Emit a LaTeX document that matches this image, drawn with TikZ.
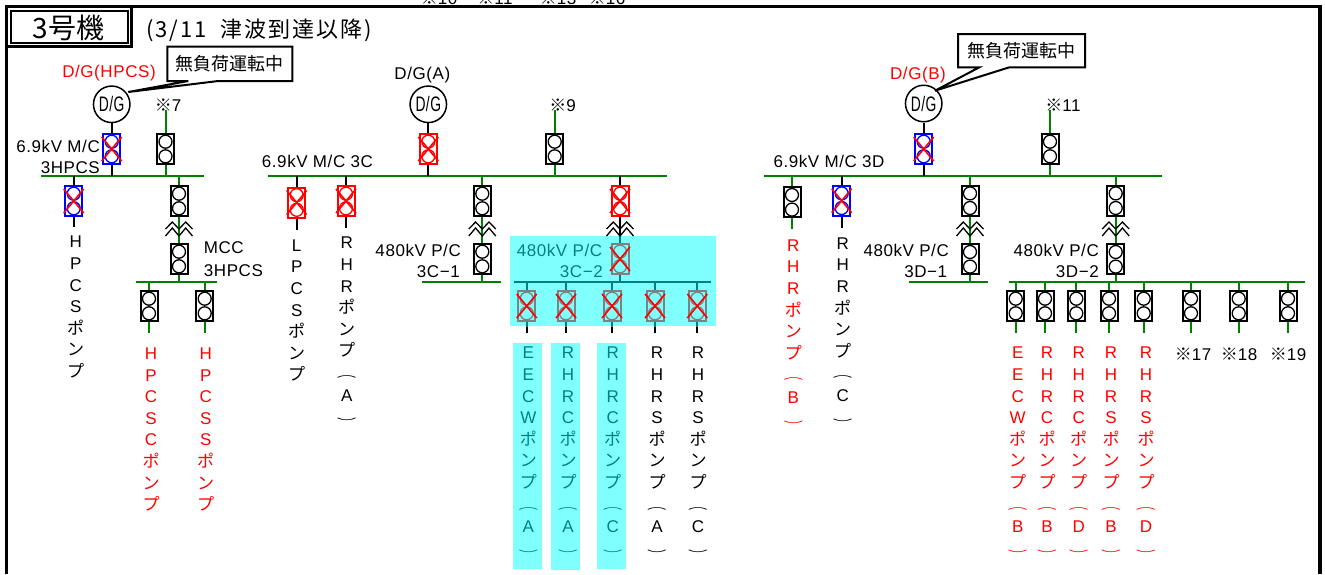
\documentclass[tikz,border=0pt]{standalone}
\usepackage{fontspec}
\setmainfont[LetterSpace=3.4]{Liberation Sans}
\newfontfamily\cjk{Noto Sans CJK JP}
\newfontfamily\cjks[LetterSpace=9]{Noto Sans CJK JP}
\usetikzlibrary{calc}
\pgfdeclarelayer{cy}\pgfdeclarelayer{bg}
\pgfsetlayers{cy,bg,main}
\definecolor{gline}{HTML}{008000}
\definecolor{tealc}{HTML}{008080}
\definecolor{cyanb}{HTML}{80FFFF}
\definecolor{grayb}{HTML}{808080}
\tikzset{
 x=1pt,y=-1pt,
 brkbox/.style={draw=black,fill=white,line width=2pt,minimum width=17pt,minimum height=30pt,inner sep=0pt},
 brkc/.style={draw=black,circle,fill=white,line width=1.3pt,minimum size=13pt,inner sep=0pt},
 bkk/.style={},
 blu/.style={draw=blue},
 redd/.style={draw=red},
 gry/.style={draw=grayb,fill=cyanb},
 gl/.style={draw=gline,line width=2pt},
 kl/.style={draw=black,line width=2pt},
 tl/.style={draw=tealc,line width=2pt},
 xr/.style={draw=red,line width=1.6pt},
 zig/.style={draw=black,line width=1.3pt},
 lab/.style={inner sep=0pt,font=\fontsize{17}{20}\selectfont,text=black},
 vt/.style={inner sep=0pt,anchor=north,align=center,font=\fontsize{17}{21.6}\selectfont},
 dgc/.style={draw=black,fill=white,circle,line width=1.5pt,minimum size=36.5pt,inner sep=0pt,font=\fontsize{21}{24}\selectfont},
 call/.style={draw=black,fill=white,line width=2pt,line join=miter},
 calltxt/.style={inner sep=0pt,font=\fontsize{18}{20}\cjk\selectfont},
}
\newcommand\brk[4]{\node[brkbox,#4] (#1) at (#2,#3) {};
 \node[brkc,#4] (#1u) at ([yshift=7.3pt]#1.center) {};
 \node[brkc,#4] (#1l) at ([yshift=-7.3pt]#1.center) {};}
\newcommand\xx[1]{\draw[xr] ([xshift=-10pt,yshift=12pt]#1.center) -- ([xshift=10pt,yshift=-12pt]#1.center);
 \draw[xr] ([xshift=-10pt,yshift=-12pt]#1.center) -- ([xshift=10pt,yshift=12pt]#1.center);}
\newcommand\tf[1]{\draw[zig] (#1-13.5,229) -- (#1-6.7,222) -- (#1,229) -- (#1+6.7,222) -- (#1+13.5,229);
 \draw[zig] (#1-13.5,236) -- (#1-6.7,228) -- (#1,236) -- (#1+6.7,228) -- (#1+13.5,236);}
\newcommand\dg[3]{\node[dgc] (#1) at (#2,#3) {\scalebox{0.66}[1]{D/G}};}
% vertical label: name, x, y of first letter centre, colour, lines
\newcommand\vl[5]{\node[vt,text=#4] (#1) at (#2,#3-7) {\rule{0pt}{13pt}#5};}
\newcommand\pmp{{\cjk ポ}\\{\cjk ン}\\{\cjk プ}}
\newcommand\pp[1]{\\[-1pt]\scalebox{1.15}[0.6]{\cjk ︵}\\[2pt]#1\\[4pt]\scalebox{1.15}[0.6]{\cjk ︶}}
\begin{document}
\begin{tikzpicture}
\useasboundingbox (0,0) rectangle (1325,574);
% ---- bus end coordinates
\coordinate (hL) at (40.7,176); \coordinate (hR) at (203.7,176);
\coordinate (cL) at (268.3,176); \coordinate (cR) at (666.7,176);
\coordinate (dL) at (764,176); \coordinate (dR) at (1162,176);
\coordinate (mL) at (135.7,282); \coordinate (mR) at (217,282);
\coordinate (c1L) at (421.7,282); \coordinate (c1R) at (501,282);
\coordinate (c2L) at (514.3,282); \coordinate (c2R) at (711.3,282);
\coordinate (d1L) at (908.7,282); \coordinate (d1R) at (988.3,282);
\coordinate (d2L) at (1009,282); \coordinate (d2R) at (1305,282);
% ---- generators
\dg{dgH}{111.7}{104.3}
\dg{dgA}{428.3}{104.3}
\dg{dgB}{923.7}{103.5}
% ---- breakers
\brk{bH}{111.7}{149}{blu}
\brk{b7}{165.5}{149}{bkk}
\brk{bP}{73.7}{201}{blu}
\brk{bM}{179}{201}{bkk}
\brk{bM2}{179}{259}{bkk}
\brk{bS1}{149}{306}{bkk}
\brk{bS2}{204.7}{306}{bkk}
\brk{bL}{296.7}{202.5}{redd}
\brk{bRA}{346}{201}{redd}
\brk{bA}{428.3}{149}{redd}
\brk{b9}{554.7}{149}{bkk}
\brk{bC1}{482.3}{201}{bkk}
\brk{bC1b}{482.3}{259}{bkk}
\brk{bC2}{620}{201}{redd}
\brk{bC2b}{620}{259}{gry}
\brk{cA}{526.7}{306}{gry}
\brk{cB}{566}{306}{gry}
\brk{cC}{612}{306}{gry}
\brk{cD}{655}{306}{gry}
\brk{cE}{697.3}{306}{gry}
\brk{bRB}{792}{202.3}{bkk}
\brk{bRC}{841.7}{200.7}{blu}
\brk{bB}{923.7}{149}{blu}
\brk{b11}{1050}{149}{bkk}
\brk{bD1}{970}{200.7}{bkk}
\brk{bD1b}{970}{259.3}{bkk}
\brk{bD2}{1115.7}{200.7}{bkk}
\brk{bD2b}{1115.7}{259.3}{bkk}
\brk{dA}{1015.7}{306}{bkk}
\brk{dB}{1045}{306}{bkk}
\brk{dC}{1076.3}{306}{bkk}
\brk{dD}{1109}{306}{bkk}
\brk{dE}{1143.7}{306}{bkk}
\brk{dF}{1191}{306}{bkk}
\brk{dG}{1238.7}{306}{bkk}
\brk{dH}{1288}{306}{bkk}
% ---- crosses
\xx{bH}\xx{bP}\xx{bL}\xx{bRA}\xx{bA}\xx{bC2}\xx{bC2b}\xx{cA}\xx{cB}\xx{cC}\xx{cD}\xx{cE}\xx{bRC}\xx{bB}
% ---- free ends
\coordinate (e7) at (165.5,110); \coordinate (e9) at (554.7,110); \coordinate (e11) at (1050,110);
\begin{pgfonlayer}{cy}
\fill[white] (0,0) rectangle (1325,574);
\fill[cyanb] (510,236) rectangle (716,325.7);
\fill[cyanb] (513,343) rectangle (542,569);
\fill[cyanb] (551.3,343) rectangle (580,570);
\fill[cyanb] (597,343) rectangle (626,569);
\end{pgfonlayer}
\begin{pgfonlayer}{bg}
% buses
\draw[gl] (hL)--(hR); \draw[gl] (cL)--(cR); \draw[gl] (dL)--(dR);
\draw[gl] (mL)--(mR); \draw[gl] (c1L)--(c1R); \draw[tl] (c2L)--(c2R);
\draw[gl] (d1L)--(d1R); \draw[gl] (d2L)--(d2R);
% HPCS
\draw[kl] (dgH.south)--(bH.north); \draw[kl] (bH.south)--(bH.south|-hL);
\draw[gl] (e7)--(b7.north); \draw[gl] (b7.south)--(b7.south|-hL);
\draw[kl] (bP.north)--(bP.north|-hL); \coordinate (sP) at (73.7,227); \draw[kl] (bP.south)--(sP);
\draw[gl] (bM.north)--(bM.north|-hL); \draw[gl] (bM.south)--(bM2.north); \draw[gl] (bM2.south)--(bM2.south|-mL);
\foreach \n in {bS1,bS2}{\draw[gl] (\n.north)--(\n.north|-mL); \draw[gl] (\n.south)--([yshift=-11pt]\n.south);}
% 3C
\draw[kl] (bL.north)--(bL.north|-cL); \draw[kl] (bL.south)--([yshift=-11.5pt]bL.south);
\draw[kl] (bRA.north)--(bRA.north|-cL); \draw[kl] (bRA.south)--([yshift=-11pt]bRA.south);
\draw[kl] (dgA.south)--(bA.north); \draw[kl] (bA.south)--(bA.south|-cL);
\draw[gl] (e9)--(b9.north); \draw[gl] (b9.south)--(b9.south|-cL);
\draw[gl] (bC1.north)--(bC1.north|-cL); \draw[gl] (bC1.south)--(bC1b.north); \draw[gl] (bC1b.south)--(bC1b.south|-c1L);
\draw[kl] (bC2.north)--(bC2.north|-cL);
\coordinate (cyT) at (620,236);
\draw[kl] (bC2.south)--(cyT); \draw[tl] (cyT)--(bC2b.north); \draw[tl] (bC2b.south)--(bC2b.south|-c2L);
\foreach \n in {cA,cB,cC,cD,cE}{\draw[tl] (\n.north)--(\n.north|-c2L); \draw[tl] (\n.south)--([yshift=-5pt]\n.south); \draw[kl] ([yshift=-5pt]\n.south)--([yshift=-11pt]\n.south);}
% 3D
\draw[gl] (bRB.north)--(bRB.north|-dL); \draw[gl] (bRB.south)--([yshift=-11pt]bRB.south);
\draw[kl] (bRC.north)--(bRC.north|-dL); \draw[kl] (bRC.south)--([yshift=-11pt]bRC.south);
\draw[kl] (dgB.south)--(bB.north); \draw[kl] (bB.south)--(bB.south|-dL);
\draw[gl] (e11)--(b11.north); \draw[gl] (b11.south)--(b11.south|-dL);
\draw[gl] (bD1.north)--(bD1.north|-dL); \draw[gl] (bD1.south)--(bD1b.north); \draw[gl] (bD1b.south)--(bD1b.south|-d1L);
\draw[gl] (bD2.north)--(bD2.north|-dL); \draw[gl] (bD2.south)--(bD2b.north); \draw[gl] (bD2b.south)--(bD2b.south|-d2L);
\foreach \n in {dA,dB,dC,dD,dE,dF,dG,dH}{\draw[gl] (\n.north)--(\n.north|-d2L); \draw[gl] (\n.south)--([yshift=-11pt]\n.south);}
\end{pgfonlayer}
% transformers
\tf{179}\tf{482.3}\tf{620}\tf{970}\tf{1115.7}
% frame
\draw[black,line width=3.5pt] (6.5,574)--(6.5,6.5)--(1320,6.5)--(1320,574);
% title box
\draw[black,fill=white,line width=3pt] (6.5,6.5) rectangle (131.5,46.5);
\draw[black,line width=2pt] (10.5,11) rectangle (127.5,42.5);
\node[inner sep=0pt,font=\fontsize{28}{30}\cjk\selectfont] (ttl) at (68.3,28) {3号機};
\node[inner sep=0pt,anchor=west,font=\fontsize{22}{24}\cjks\selectfont] (sub) at (146,30) {(3/11 \ 津波到達以降)};
% callouts
\draw[call] (167.3,46.7)--(292.3,46.7)--(292.3,81)--(218.3,81)--(128.3,92)--(188.3,81)--(167.3,81)--cycle;
\node[calltxt] (cw1) at (229.8,63.5) {無負荷運転中};
\draw[call] (958,34)--(1085,34)--(1085,67.3)--(1009.3,67.3)--(935,90.7)--(979.3,67.3)--(958,67.3)--cycle;
\node[calltxt] (cw2) at (1021.5,50.5) {無負荷運転中};
% cut-off notes above the frame
\node[lab,anchor=base] (n10) at (439,4.5) {{\cjk ※}10};
\node[lab,anchor=base] (n11) at (495,4.5) {{\cjk ※}11};
\node[lab,anchor=base] (n13) at (558,4.5) {{\cjk ※}13};
\node[lab,anchor=base] (n16) at (607,4.5) {{\cjk ※}16};
% labels
\node[lab,text=red] (lH) at (109,72.7) {D/G(HPCS)};
\node[lab] (lA) at (422.3,75) {D/G(A)};
\node[lab,text=red] (lB) at (918,75) {D/G(B)};
\node[lab] (n7) at (168,105.7) {{\cjk ※}7};
\node[lab] (n9) at (562.7,105.7) {{\cjk ※}9};
\node[lab] (n11b) at (1063,105.7) {{\cjk ※}11};
\node[lab,anchor=east] (t1) at (100,146.7) {6.9kV M/C};
\node[lab,anchor=east] (t2) at (100,167.7) {3HPCS};
\node[lab,anchor=west] (t3) at (261.7,161.7) {6.9kV M/C 3C};
\node[lab,anchor=west] (t4) at (203.7,248) {MCC};
\node[lab,anchor=west] (t5) at (203.7,270.7) {3HPCS};
\node[lab,anchor=east] (t6) at (461,250) {480kV P/C};
\node[lab,anchor=east] (t7) at (460,271.7) {3C−1};
\node[lab,anchor=east,text=tealc] (t8) at (602.3,250) {480kV P/C};
\node[lab,anchor=east,text=tealc] (t9) at (603,271.7) {3C−2};
\node[lab,anchor=west] (t10) at (773.3,161.7) {6.9kV M/C 3D};
\node[lab,anchor=east] (t11) at (949,250) {480kV P/C};
\node[lab,anchor=east] (t12) at (947.3,271.7) {3D−1};
\node[lab,anchor=east] (t13) at (1099,250) {480kV P/C};
\node[lab,anchor=east] (t14) at (1099,271.7) {3D−2};
\node[lab] (n17) at (1193,354) {{\cjk ※}17};
\node[lab] (n18) at (1239,354) {{\cjk ※}18};
\node[lab] (n19) at (1288,354) {{\cjk ※}19};
% vertical pump labels
\vl{v1}{75.7}{241.7}{black}{H\\P\\C\\S\\\pmp}
\vl{v2}{151}{353.3}{red}{H\\P\\C\\S\\C\\\pmp}
\vl{v3}{205.7}{353.3}{red}{H\\P\\C\\S\\S\\\pmp}
\vl{v4}{296.7}{245}{black}{L\\P\\C\\S\\\pmp}
\vl{v5}{346.7}{242.7}{black}{R\\H\\R\\\pmp\pp{A}}
\vl{v6}{528.3}{352.7}{tealc}{E\\E\\C\\W\\\pmp\pp{A}}
\vl{v7}{568}{352.7}{tealc}{R\\H\\R\\C\\\pmp\pp{A}}
\vl{v8}{612.7}{352.7}{tealc}{R\\H\\R\\C\\\pmp\pp{C}}
\vl{v9}{657}{352.7}{black}{R\\H\\R\\S\\\pmp\pp{A}}
\vl{v10}{698}{352.7}{black}{R\\H\\R\\S\\\pmp\pp{C}}
\vl{v11}{793.3}{245}{red}{R\\H\\R\\\pmp\pp{B}}
\vl{v12}{842.7}{243}{black}{R\\H\\R\\\pmp\pp{C}}
\vl{v13}{1017.7}{352.7}{red}{E\\E\\C\\W\\\pmp\pp{B}}
\vl{v14}{1047}{352.7}{red}{R\\H\\R\\C\\\pmp\pp{B}}
\vl{v15}{1078.7}{352.7}{red}{R\\H\\R\\C\\\pmp\pp{D}}
\vl{v16}{1111}{352.7}{red}{R\\H\\R\\S\\\pmp\pp{B}}
\vl{v17}{1146}{352.7}{red}{R\\H\\R\\S\\\pmp\pp{D}}
\end{tikzpicture}
\end{document}
